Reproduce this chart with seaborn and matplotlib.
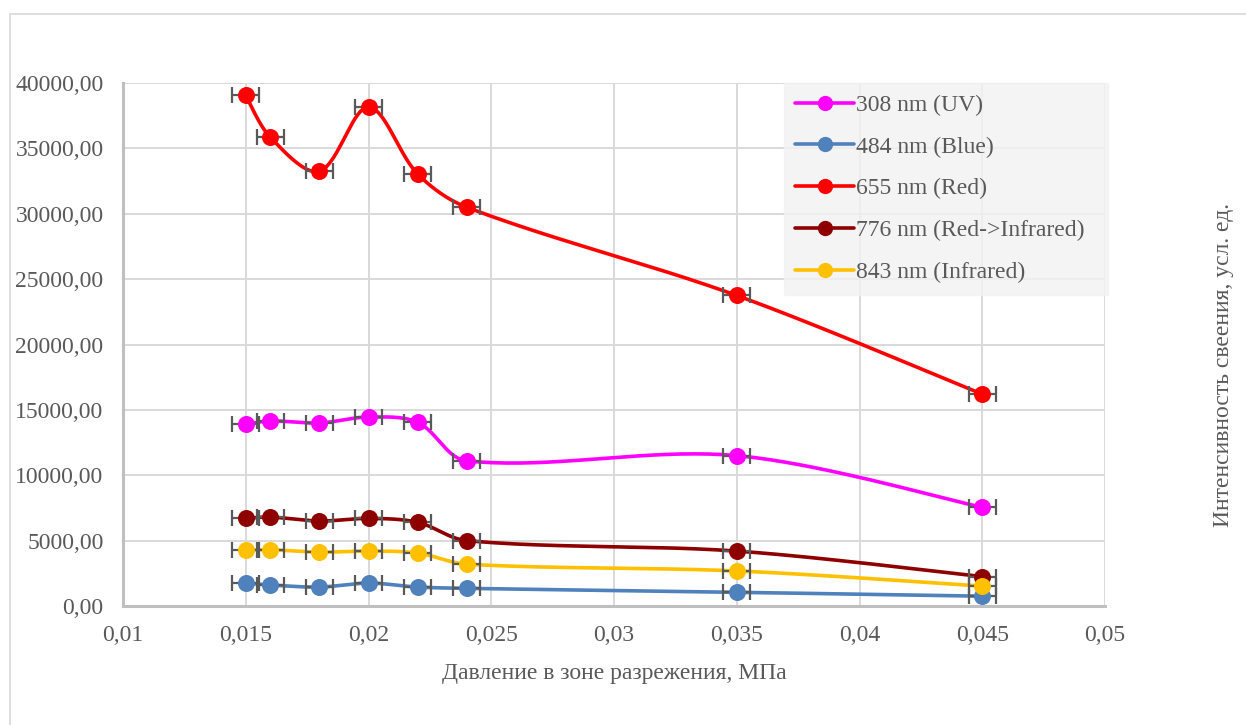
import numpy as np
import matplotlib
matplotlib.use("Agg")
import matplotlib.pyplot as plt
from matplotlib.lines import Line2D
from matplotlib.ticker import FuncFormatter, MultipleLocator
import seaborn as sns

# Pressure in the rarefaction zone, MPa
pressure = [0.015, 0.016, 0.018, 0.020, 0.022, 0.024, 0.035, 0.045]
pressure_err = 0.00055

# Glow intensity per wavelength, arb. units
uv_308 = [13900, 14150, 14000, 14450, 14050, 11100, 11500, 7550]
blue_484 = [1750, 1600, 1450, 1750, 1450, 1350, 1050, 750]
red_655 = [39050, 35850, 33250, 38150, 33050, 30500, 23750, 16200]
redir_776 = [6700, 6800, 6500, 6700, 6400, 5000, 4200, 2250]
ir_843 = [4280, 4300, 4120, 4200, 4050, 3200, 2680, 1520]

series_names = ["308 nm (UV)", "484 nm (Blue)", "655 nm (Red)",
                "776 nm (Red->Infrared)", "843 nm (Infrared)"]
series_values = [uv_308, blue_484, red_655, redir_776, ir_843]
series_colors = ["#FF00FF", "#4F81BD", "#FF0000", "#8E0000", "#FFC000"]


def smooth_curve(ax, x, y, n=40):
    """Bezier smoothing through every point, tangents scaled by on-screen segment lengths."""
    data = np.column_stack([x, y]).astype(float)
    pts = ax.transData.transform(data)
    out = []
    for i in range(len(pts) - 1):
        p0 = pts[i - 1] if i > 0 else pts[i]
        p1, p2 = pts[i], pts[i + 1]
        p3 = pts[i + 2] if i + 2 < len(pts) else pts[i + 1]
        d01 = np.linalg.norm(p1 - p0)
        d12 = np.linalg.norm(p2 - p1)
        d23 = np.linalg.norm(p3 - p2)
        f1 = d12 / (d01 + d12) if d01 > 0 else 0.5
        f2 = d12 / (d12 + d23) if d23 > 0 else 0.5
        c1 = p1 + (p2 - p0) * f1 / 3.0
        c2 = p2 - (p3 - p1) * f2 / 3.0
        t = np.linspace(0, 1, n)[:, None]
        seg = ((1 - t) ** 3) * p1 + 3 * ((1 - t) ** 2) * t * c1 \
            + 3 * (1 - t) * t ** 2 * c2 + t ** 3 * p2
        out.append(seg if i == 0 else seg[1:])
    return ax.transData.inverted().transform(np.vstack(out))


sns.set_theme(style="white")
plt.rcParams["font.family"] = ["Liberation Serif", "DejaVu Serif"]
text_color = "#595959"

fig = plt.figure(figsize=(12.46, 7.25), dpi=100)
ax = fig.add_axes([123 / 1246, 1 - 606 / 725, (1105 - 123) / 1246, (606 - 83) / 725])
ax.set_xlim(0.01, 0.05)
ax.set_ylim(0, 40000)

for name, vals, col in zip(series_names, series_values, series_colors):
    curve = smooth_curve(ax, pressure, vals)
    sns.lineplot(x=curve[:, 0], y=curve[:, 1], sort=False, estimator=None,
                 color=col, linewidth=2.6, ax=ax, zorder=2)
    ax.errorbar(pressure, vals, xerr=pressure_err, fmt="none",
                ecolor="#595959", elinewidth=1.6, capsize=5.5, capthick=1.6, zorder=3)
    sns.scatterplot(x=pressure, y=vals, color=col, s=150, edgecolor=col,
                    linewidth=0, ax=ax, zorder=4, legend=False)

ax.set_xlim(0.01, 0.05)
ax.set_ylim(0, 40000)
ax.xaxis.set_major_locator(MultipleLocator(0.005))
ax.yaxis.set_major_locator(MultipleLocator(5000))
ax.xaxis.set_major_formatter(FuncFormatter(lambda v, p: f"{round(v, 4):g}".replace(".", ",")))
ax.yaxis.set_major_formatter(FuncFormatter(lambda v, p: f"{v:.2f}".replace(".", ",")))
ax.grid(True, color="#d9d9d9", linewidth=1.4)
ax.set_axisbelow(True)
for side in ["top", "right"]:
    ax.spines[side].set_visible(False)
for side in ["left", "bottom"]:
    ax.spines[side].set_color("#bfbfbf")
    ax.spines[side].set_linewidth(2.2)
ax.tick_params(axis="both", length=0, labelsize=17, colors=text_color)
ax.tick_params(axis="y", pad=14)
ax.tick_params(axis="x", pad=14)

ax.set_xlabel("Давление в зоне разрежения, МПа", fontsize=17, color=text_color, labelpad=12)
ax.set_ylabel("")
fig.text(1224 / 1246, 1 - 365 / 725, "Интенсивность свеения, усл. ед.",
         rotation=90, ha="center", va="center", fontsize=17, color=text_color)

handles = [Line2D([0], [0], color=c, lw=2.6, marker="o", markersize=11,
                  markeredgewidth=0) for c in series_colors]
leg_box = (784 / 1246, 1 - 290 / 725, (1108 - 784) / 1246, (290 - 83) / 725)
leg = ax.legend(handles, series_names, loc="upper left", mode="expand",
                bbox_to_anchor=leg_box, bbox_transform=fig.transFigure,
                fontsize=17, frameon=True, fancybox=False, handlelength=2.5,
                handletextpad=0.05, labelspacing=0.86, borderpad=0.48,
                borderaxespad=0)
leg.get_frame().set_facecolor("#f2f2f2")
leg.get_frame().set_edgecolor("#f2f2f2")
for t in leg.get_texts():
    t.set_color(text_color)

# Chart frame
fig.add_artist(Line2D([10 / 1246, 1], [1 - 14 / 725, 1 - 14 / 725],
                      transform=fig.transFigure, color="#d9d9d9", lw=1.2))
fig.add_artist(Line2D([10 / 1246, 10 / 1246], [0, 1 - 14 / 725],
                      transform=fig.transFigure, color="#d9d9d9", lw=1.2))

fig.savefig("out.png", dpi=100, facecolor="white")
